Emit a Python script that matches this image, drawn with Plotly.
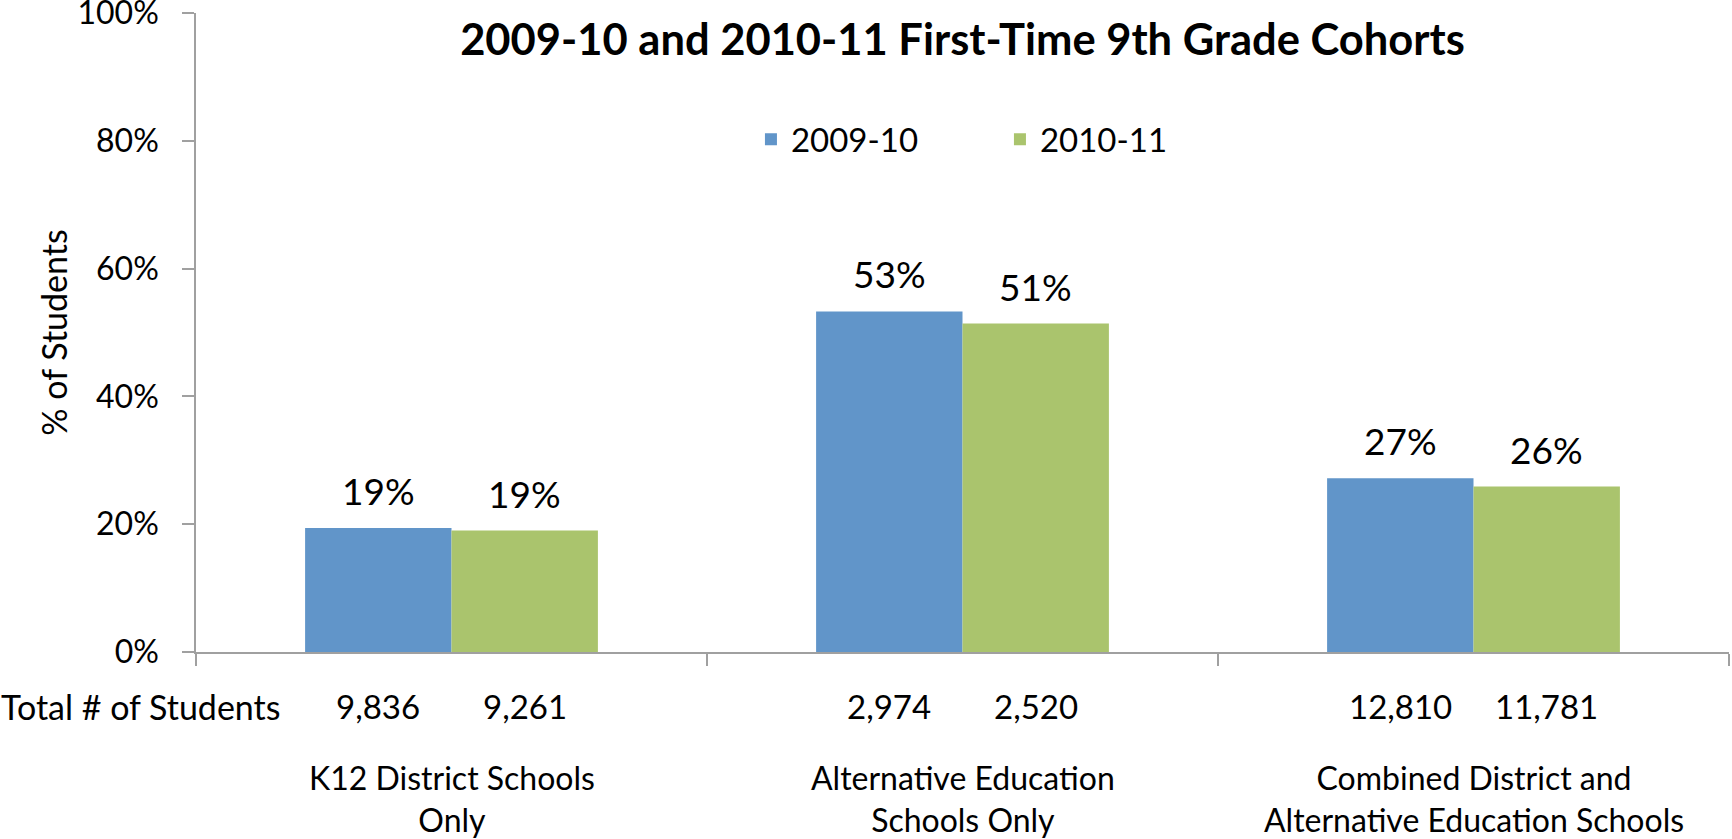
import plotly.graph_objects as go

categories = ["K12 District Schools<br>Only",
              "Alternative Education<br>Schools Only",
              "Combined District and<br>Alternative Education Schools"]
series_names = ["2009-10", "2010-11"]
pct_0910 = [19.4, 53.3, 27.2]
pct_1011 = [19.0, 51.4, 25.9]
count_0910 = [9836, 2974, 12810]
count_1011 = [9261, 2520, 11781]
y_ticks = [0, 20, 40, 60, 80, 100]
y_tick_labels = [f"{v}%" for v in y_ticks]
title_text = "2009-10 and 2010-11 First-Time 9th Grade Cohorts"
row_label = "Total # of Students"

FONT = "Lato"
BLUE = "#6195C9"
GREEN = "#AAC46D"
AXIS = "#A0A0A0"
BARGAP = 0.427
TXT = 33
x_pos = list(range(len(categories)))
half = (1 - BARGAP) / 4  # bar centre offset from category centre

fig = go.Figure()
for name, vals, col in [(series_names[0], pct_0910, BLUE),
                        (series_names[1], pct_1011, GREEN)]:
    fig.add_trace(go.Bar(name=name, x=x_pos, y=vals, marker_color=col,
                         marker_line_width=0))

annotations = []
# value labels
for vals, sign in [(pct_0910, -1), (pct_1011, 1)]:
    for i, v in enumerate(vals):
        annotations.append(dict(x=x_pos[i] + sign * half, y=v, xref="x", yref="y",
                                text=f"{v:.0f}%", showarrow=False, yanchor="bottom",
                                yshift=13, font=dict(family=FONT, size=37, color="black")))
# counts row
for counts, sign in [(count_0910, -1), (count_1011, 1)]:
    for i, c in enumerate(counts):
        annotations.append(dict(x=x_pos[i] + sign * half, y=0, xref="x", yref="paper",
                                text=f"{c:,}", showarrow=False, yanchor="middle",
                                yshift=-54, font=dict(family=FONT, size=TXT, color="black")))
annotations.append(dict(x=-197 / 1533, y=0, xref="paper", yref="paper", text=row_label,
                        showarrow=False, xanchor="left", yanchor="middle", yshift=-54,
                        font=dict(family=FONT, size=34, color="black")))
# category labels
for i, cat in enumerate(categories):
    annotations.append(dict(x=x_pos[i], y=0, xref="x", yref="paper", text=cat,
                            showarrow=False, yanchor="top", yshift=-104,
                            font=dict(family=FONT, size=32, color="black")))

fig.update_layout(
    width=1732, height=839,
    margin=dict(l=196, r=3, t=13, b=187, autoexpand=False),
    paper_bgcolor="white", plot_bgcolor="white",
    barmode="group", bargap=BARGAP, bargroupgap=0,
    font=dict(family=FONT, size=TXT, color="black"),
    title=dict(text=f"<b>{title_text}</b>", x=0.5, xref="paper", xanchor="center",
               y=1 - 40 / 839, yref="container", yanchor="middle",
               font=dict(family=FONT, size=43.5, color="black")),
    legend=dict(orientation="h", x=0.362, xanchor="left", y=0.846, yanchor="top",
                font=dict(family=FONT, size=TXT, color="black"),
                entrywidth=204, entrywidthmode="pixels", bgcolor="rgba(0,0,0,0)"),
    annotations=annotations,
    xaxis=dict(range=[-0.5, 2.5], tickvals=[-0.5, 0.5, 1.5, 2.5], showticklabels=False,
               ticks="outside", ticklen=12, tickcolor=AXIS, tickwidth=1.5,
               showline=True, linecolor=AXIS, linewidth=1.5, showgrid=False,
               zeroline=False, automargin=False),
    yaxis=dict(range=[0, 100], tickvals=y_ticks, ticktext=y_tick_labels,
               ticks="outside", ticklen=12, tickcolor=AXIS, tickwidth=1.5,
               showline=True, linecolor=AXIS, linewidth=1.5, showgrid=False,
               zeroline=False, ticklabelstandoff=17, automargin=False,
               ticklabeloverflow="allow",
               tickfont=dict(family=FONT, size=32, color="black"),
               title=dict(text="% of Students", standoff=0,
                          font=dict(family=FONT, size=34, color="black"))),
)

fig.write_html("out.html", config={"displayModeBar": False},
               post_script="document.body.style.margin='0';document.body.style.overflow='hidden';")
